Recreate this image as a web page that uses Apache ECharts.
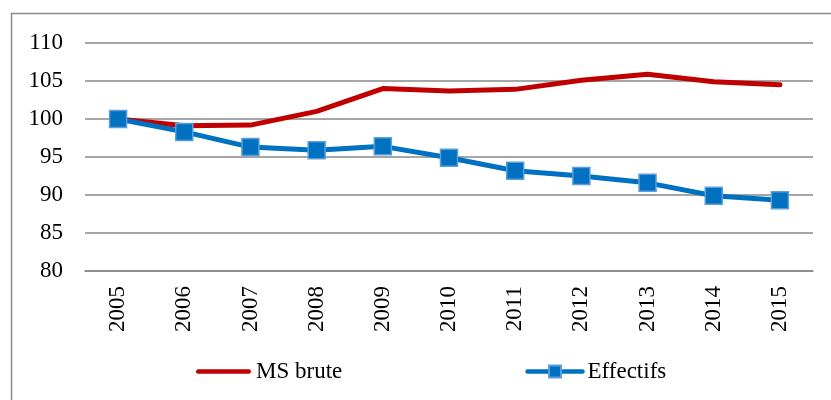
<!DOCTYPE html>
<html>
<head>
<meta charset="utf-8">
<script src="https://cdn.jsdelivr.net/npm/echarts@6/dist/echarts.min.js"></script>
<style>
  html, body { margin: 0; padding: 0; background: #fff; }
  #chart { width: 831px; height: 400px; }
</style>
</head>
<body>
<div id="chart"></div>
<script>
// Index values, base 100 in 2005
const years = ['2005', '2006', '2007', '2008', '2009', '2010', '2011', '2012', '2013', '2014', '2015'];
const msBrute = [100, 99.1, 99.2, 101.0, 104.0, 103.7, 103.9, 105.1, 105.9, 104.9, 104.5];
const effectifs = [100, 98.3, 96.3, 95.9, 96.4, 94.9, 93.2, 92.5, 91.6, 89.9, 89.3];
const yTicks = { min: 80, max: 110, interval: 5 };

const font = '"Liberation Serif", "Times New Roman", serif';
const gridGray = '#888888';
const red = '#C00000';
const blue = '#0070C0';

const chart = echarts.init(document.getElementById('chart'), null, { renderer: 'canvas' });
chart.setOption({
  animation: false,
  backgroundColor: '#ffffff',
  textStyle: { fontFamily: font },
  graphic: [{
    type: 'rect',
    silent: true,
    shape: { x: 11.5, y: 13.5, width: 830, height: 400 },
    style: { fill: 'none', stroke: '#8c8c8c', lineWidth: 1.5 }
  }],
  grid: { left: 85, right: 18, top: 43, bottom: 129, containLabel: false },
  legend: {
    bottom: 17,
    left: 196,
    padding: 0,
    itemWidth: 55,
    itemHeight: 15,
    itemGap: 183,
    textStyle: { fontFamily: font, fontSize: 23, color: '#000' },
    data: [
      { name: 'MS brute', icon: 'path://M2,0 L53,0 A2,2 0 0 1 53,4.5 L2,4.5 A2,2 0 0 1 2,0 Z', itemStyle: { color: red } },
      { name: 'Effectifs', lineStyle: { width: 4.5 } }
    ]
  },
  xAxis: {
    type: 'category',
    data: years,
    boundaryGap: true,
    axisLine: { show: true, lineStyle: { color: gridGray, width: 1.5 } },
    axisTick: { show: false },
    axisLabel: { rotate: 90, margin: 15, fontFamily: font, fontSize: 23, color: '#000' }
  },
  yAxis: {
    type: 'value',
    min: yTicks.min,
    max: yTicks.max,
    interval: yTicks.interval,
    axisLine: { show: false },
    axisTick: { show: false },
    axisLabel: { margin: 22, fontFamily: font, fontSize: 23, color: '#000' },
    splitLine: { lineStyle: { color: gridGray, width: 1.5 } }
  },
  series: [
    {
      name: 'MS brute',
      type: 'line',
      data: msBrute,
      symbol: 'none',
      lineStyle: { color: red, width: 5, cap: 'round', join: 'round' },
      itemStyle: { color: red },
      z: 2
    },
    {
      name: 'Effectifs',
      type: 'line',
      data: effectifs,
      symbol: 'rect',
      symbolSize: 17,
      lineStyle: { color: blue, width: 5, cap: 'round', join: 'round' },
      itemStyle: { color: blue, borderColor: '#5A9FDA', borderWidth: 1.5 },
      z: 3
    }
  ]
});
</script>
</body>
</html>
